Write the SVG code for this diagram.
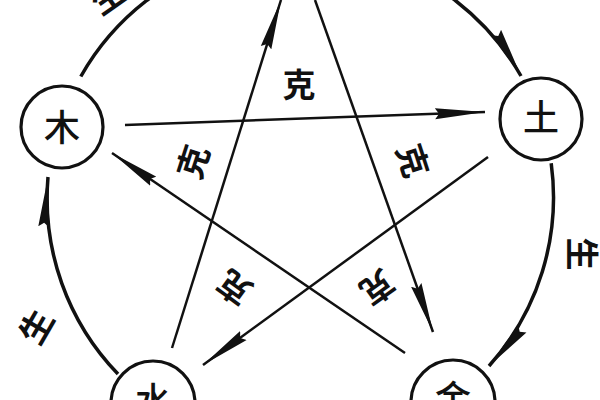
<svg xmlns="http://www.w3.org/2000/svg" width="600" height="400" viewBox="0 0 600 400">
  <style>
    .node circle { fill: #fff; stroke: #111; stroke-width: 3.2; }
    .node text { font-family: "Liberation Sans", "Noto Sans CJK SC", sans-serif; font-size: 36px; font-weight: 500; fill: #111; text-anchor: middle; dominant-baseline: central; }
    .arc { fill: none; stroke: #111; stroke-width: 3.5; }
    .line { fill: none; stroke: #111; stroke-width: 2.5; }
    .lbl { font-family: "Liberation Sans", "Noto Sans CJK SC", sans-serif; font-size: 33px; font-weight: bold; fill: #111; text-anchor: middle; dominant-baseline: central; }
  </style>
  <defs>
    <marker id="wedge" viewBox="0 0 50 12" refX="50" refY="6" markerWidth="50" markerHeight="12" markerUnits="userSpaceOnUse" orient="auto">
      <path d="M0,0.5 L50,6 L0,11.5 L4,6 Z" fill="#111"/>
    </marker>
  </defs>
  <rect width="600" height="400" fill="#fff"/>

  <g id="connectors">
    <!-- sheng cycle arcs -->
    <path class="arc" d="M80.8,76.5 A253,253 0 0 1 235.5,-43.4"/>
    <path class="arc" d="M366.5,-43.4 A253,253 0 0 1 521,76" marker-end="url(#wedge)"/>
    <path class="arc" d="M551.2,163.2 A253,253 0 0 1 489,366" marker-end="url(#wedge)"/>
    <path class="arc" d="M118,374 A253,253 0 0 1 48,177" marker-end="url(#wedge)"/>
    <!-- ke cycle star lines -->
    <path class="line" d="M125,125 L485,112" marker-end="url(#wedge)"/>
    <path class="line" d="M488,157 L203,365" marker-end="url(#wedge)"/>
    <path class="line" d="M172,348 L281,0" marker-end="url(#wedge)"/>
    <path class="line" d="M315,0 L433,332" marker-end="url(#wedge)"/>
    <path class="line" d="M405,353 L112,153" marker-end="url(#wedge)"/>
    <!-- labels -->
    <text class="lbl" x="299" y="85">克</text>
    <text class="lbl" transform="translate(194,162) rotate(-72)">克</text>
    <text class="lbl" transform="translate(412,161) rotate(72)">克</text>
    <text class="lbl" transform="translate(235,287) rotate(-144)">克</text>
    <text class="lbl" transform="translate(377,287) rotate(144)">克</text>
    <text class="lbl" transform="translate(37,327) rotate(-60)">生</text>
    <text class="lbl" transform="translate(581,254) rotate(90)">生</text>
    <text class="lbl" transform="translate(108,-3) rotate(-35)">生</text>
  </g>

  <g id="node-mu" class="node">
    <circle cx="62" cy="127" r="41"/>
    <text x="62" y="128">木</text>
  </g>
  <g id="node-tu" class="node">
    <circle cx="541" cy="119" r="41"/>
    <text x="541" y="118">土</text>
  </g>
  <g id="node-shui" class="node">
    <circle cx="153" cy="403" r="42"/>
    <text x="153" y="401">水</text>
  </g>
  <g id="node-jin" class="node">
    <circle cx="453" cy="402" r="42"/>
    <text x="453" y="399">金</text>
  </g>
</svg>
